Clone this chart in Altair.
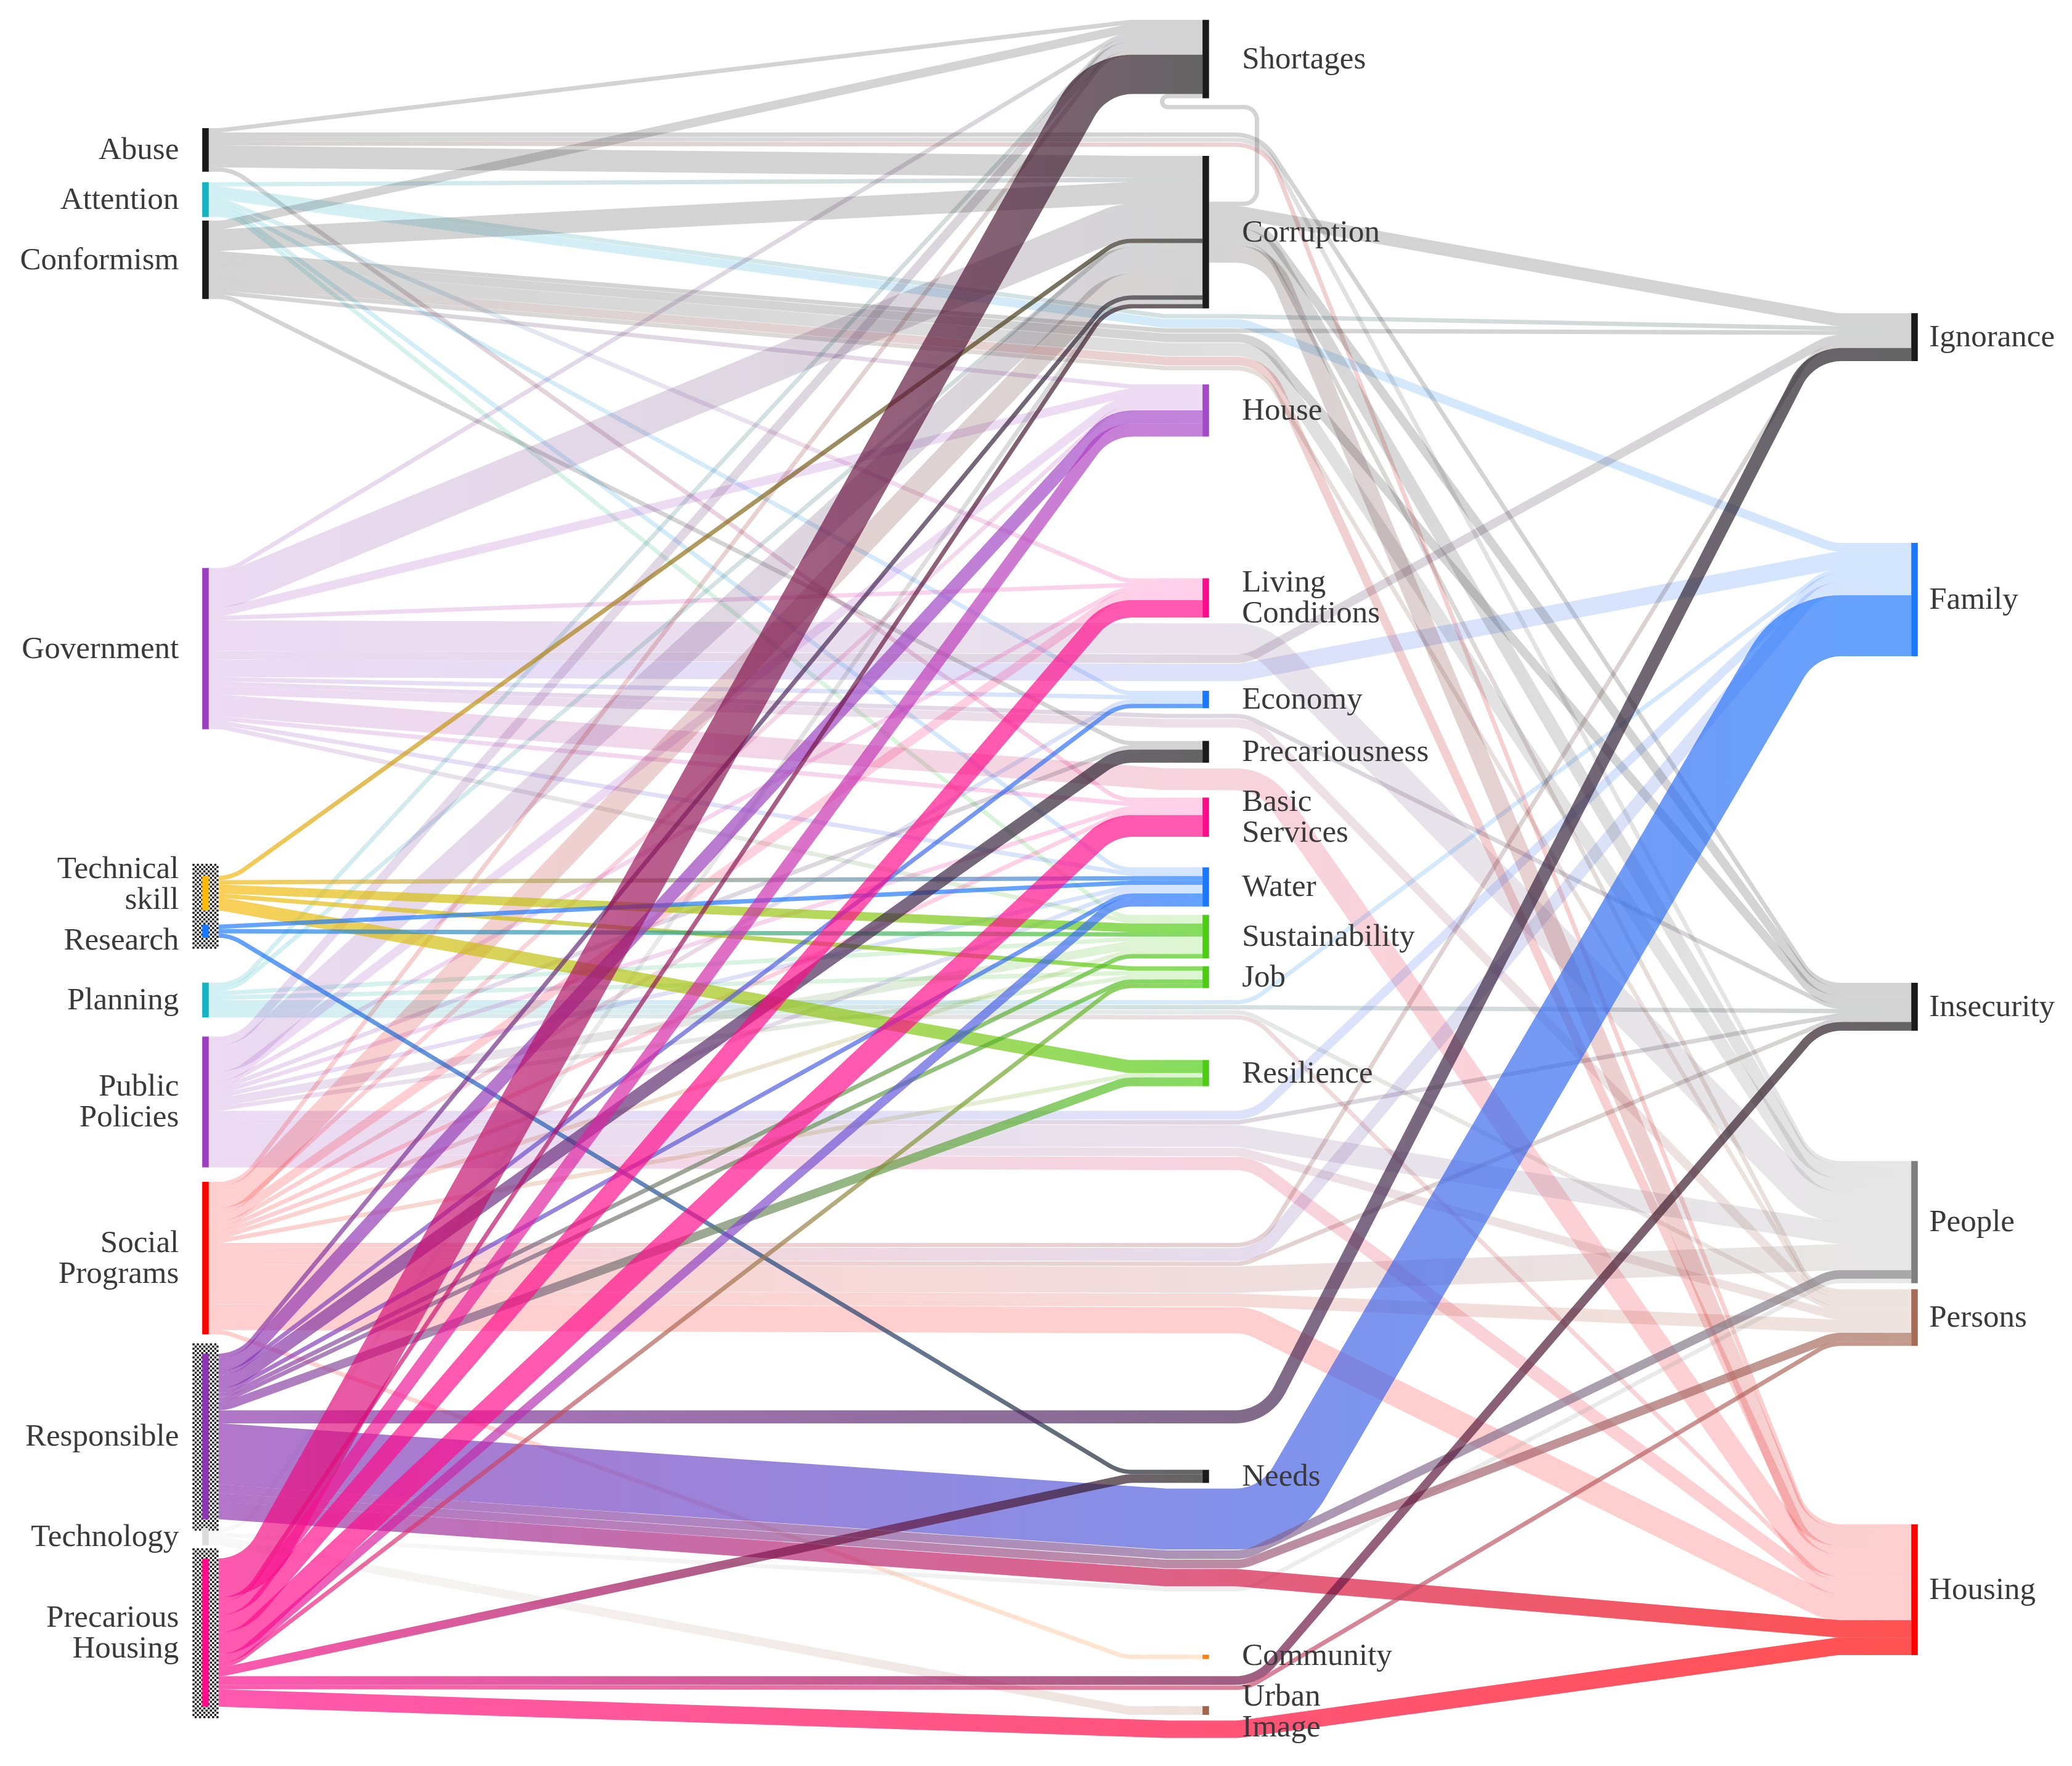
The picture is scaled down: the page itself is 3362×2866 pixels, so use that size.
import math
import altair as alt
import pandas as pd

alt.data_transformers.disable_max_rows()

# ---------------- data ----------------
left_nodes = ["Abuse", "Attention", "Conformism", "Government", "Technical skill", "Research",
              "Planning", "Public Policies", "Social Programs", "Responsible", "Technology",
              "Precarious Housing"]
middle_nodes = ["Shortages", "Corruption", "House", "Living Conditions", "Economy", "Precariousness",
                "Basic Services", "Water", "Sustainability", "Job", "Resilience", "Needs",
                "Community", "Urban Image"]
right_nodes = ["Ignorance", "Family", "Insecurity", "People", "Persons", "Housing"]

node_labels = {"Technical skill": "Technical\nskill", "Public Policies": "Public\nPolicies",
               "Social Programs": "Social\nPrograms", "Precarious Housing": "Precarious\nHousing",
               "Living Conditions": "Living\nConditions", "Basic Services": "Basic\nServices",
               "Urban Image": "Urban\nImage"}

selected_nodes = ["Technical skill", "Research", "Responsible", "Precarious Housing"]

flows_abuse = {"Shortages": 1, "Corruption": 5, "Basic Services": 1, "Insecurity": 1, "People": 1, "Housing": 1}
flows_attention = {"Corruption": 1, "Economy": 1, "Living Conditions": 1, "Water": 1, "Sustainability": 1,
                   "Ignorance": 1, "Family": 2}
flows_conformism = {"Shortages": 2, "Corruption": 5, "House": 1, "Precariousness": 1, "Ignorance": 1,
                    "Insecurity": 2, "People": 3, "Housing": 2, "Persons": 1}
flows_government = {"Shortages": 1, "Corruption": 8, "House": 2, "Living Conditions": 1, "Economy": 1,
                    "Basic Services": 1, "Water": 1, "Sustainability": 1, "Ignorance": 2, "Family": 4,
                    "Insecurity": 1, "People": 7, "Persons": 2, "Housing": 5}
flows_technical = {"Corruption": 1, "Water": 1, "Sustainability": 2, "Job": 1, "Resilience": 3}
flows_research = {"Water": 1, "Sustainability": 1, "Needs": 1}
flows_planning = {"Shortages": 1, "Corruption": 1, "Sustainability": 1, "Job": 1, "Family": 1,
                  "Insecurity": 1, "Persons": 1, "Housing": 1}
flows_policies = {"Shortages": 2, "Corruption": 6, "House": 2, "Living Conditions": 1, "Precariousness": 1,
                  "Basic Services": 1, "Water": 1, "Sustainability": 2, "Job": 1, "Family": 2,
                  "Insecurity": 1, "People": 5, "Persons": 2, "Housing": 3}
flows_programs = {"Shortages": 1, "Corruption": 5, "House": 1, "Living Conditions": 2, "Economy": 1,
                  "Basic Services": 1, "Water": 1, "Sustainability": 1, "Resilience": 1, "Community": 1,
                  "Ignorance": 1, "Family": 3, "Insecurity": 1, "People": 6, "Persons": 3, "Housing": 6}
flows_responsible = {"Corruption": 1, "House": 3, "Economy": 1, "Precariousness": 3, "Water": 1,
                     "Sustainability": 1, "Job": 1, "Resilience": 2, "Ignorance": 3, "Family": 14,
                     "People": 2, "Persons": 2, "Housing": 4}
flows_technology = {"Corruption": 1, "Urban Image": 2, "People": 1}
flows_precarious = {"Shortages": 9, "Corruption": 1, "House": 3, "Living Conditions": 4, "Basic Services": 5,
                    "Water": 2, "Job": 1, "Needs": 2, "Insecurity": 2, "Persons": 1, "Housing": 4}
flows_corruption = {"Shortages": 1, "Ignorance": 3, "Insecurity": 2, "People": 3, "Persons": 1, "Housing": 4}

flows = {"Abuse": flows_abuse, "Attention": flows_attention, "Conformism": flows_conformism,
         "Government": flows_government, "Technical skill": flows_technical, "Research": flows_research,
         "Planning": flows_planning, "Public Policies": flows_policies, "Social Programs": flows_programs,
         "Responsible": flows_responsible, "Technology": flows_technology,
         "Precarious Housing": flows_precarious, "Corruption": flows_corruption}

# ---------------- styles ----------------
BLACK, TEAL, PURPLE, YELLOW = "#1a1a1a", "#16b3c3", "#9a3fbf", "#f9b90a"
BLUE, RED, PINK, GREEN = "#1a78ff", "#ff0000", "#ff0a8a", "#4ccc12"
node_color = {
    "Abuse": BLACK, "Attention": TEAL, "Conformism": BLACK, "Government": PURPLE,
    "Technical skill": YELLOW, "Research": BLUE, "Planning": TEAL, "Public Policies": PURPLE,
    "Social Programs": RED, "Responsible": "#8e35b0", "Technology": "#dcdcdc", "Precarious Housing": PINK,
    "Shortages": BLACK, "Corruption": BLACK, "House": "#a548c8", "Living Conditions": PINK,
    "Economy": BLUE, "Precariousness": BLACK, "Basic Services": PINK, "Water": BLUE,
    "Sustainability": GREEN, "Job": GREEN, "Resilience": GREEN, "Needs": BLACK,
    "Community": "#ff7f0e", "Urban Image": "#a5644a",
    "Ignorance": BLACK, "Family": BLUE, "Insecurity": BLACK, "People": "#7f7f7f",
    "Persons": "#a66c55", "Housing": RED,
}
PALE_OPACITY, HL_OPACITY = 0.19, 0.68

# ---------------- layout (units = flow units) ----------------
PX = 7.075
W, H = 3346, 2850
XU, YU = W / PX, H / PX
COL_X = [46.0, 275.4, 437.95]
BAR_W = 1.5
col_gaps = [
    [28.26, 2.4, 0.8, 61.7, 33.6, 3.2, 10.3, 4.4, 3.3, 4.4, 2.0, 3.0],
    [3.42, 13.2, 17.4, 32.5, 16.8, 7.5, 8.0, 7.0, 1.9, 1.8, 16.5, 88.0, 39.4, 10.8],
    [70.7, 41.7, 74.9, 29.9, 1.4, 40.9],
]
LABEL_X = [39.9, 283.7, 441.3]
FONT_SIZE, LINE_H, LABEL_GAP = 51, 50, 16
LEAD0, LEAD1, LEAD0_MR, LEAD1_MID, R_BASE = 2.0, 16.0, 6.0, 8.0, 10.0
NODE_PAD, WP_PAD, UP_COST = 1.3, 0.15, 2.5

columns = [left_nodes, middle_nodes, right_nodes]
node_col = {n: c for c, lst in enumerate(columns) for n in lst}
kinds = {(0, 1): "LM", (0, 2): "LR", (1, 2): "MR", (1, 1): "loop"}
links = []
for src, d in flows.items():
    for tgt, v in d.items():
        links.append(dict(s=src, t=tgt, v=v, kind=kinds[(node_col[src], node_col[tgt])]))

in_sum = {n: 0 for n in node_col}
out_sum = {n: 0 for n in node_col}
for L in links:
    out_sum[L["s"]] += L["v"]
    in_sum[L["t"]] += L["v"]
size = {n: max(in_sum[n], out_sum[n]) for n in node_col}
top = {}
for c, lst in enumerate(columns):
    y = 0.0
    for n, g in zip(lst, col_gaps[c]):
        y += g
        top[n] = y
        y += size[n]

def center(n):
    return top[n] + size[n] / 2

for L in links:
    L["next"] = center(L["s"]) if L["kind"] == "LR" else center(L["t"])

for it in range(6):
    for n in node_col:
        outs = [L for L in links if L["s"] == n]
        outs.sort(key=lambda L: (L["kind"] != "loop", L["next"]))
        tot = sum(L["v"] for L in outs)
        y = top[n] + (size[n] - tot) / 2
        for L in outs:
            L["sy"] = y
            y += L["v"]
    blocked = [(top[m] - NODE_PAD, top[m] + size[m] + NODE_PAD) for m in middle_nodes]
    for L in sorted([L for L in links if L["kind"] == "LR"], key=lambda L: L["sy"]):
        want, v = L["sy"], L["v"]
        cands = [want] + [e for s_, e in blocked] + [s_ - v for s_, e in blocked]
        feas = [c for c in cands if 0 <= c <= YU - v and all(c + v <= s_ or c >= e for s_, e in blocked)]
        best = min(feas, key=lambda c: (c - want) if c >= want else (want - c) * UP_COST)
        L["wy"] = best
        blocked.append((best - WP_PAD, best + v + WP_PAD))
    for n in node_col:
        ins = [L for L in links if L["t"] == n]
        def pkey(L):
            if L["kind"] == "loop":
                return 1e9
            if L["kind"] == "LR":
                return L["wy"] + L["v"] / 2
            return L["sy"] + L["v"] / 2
        ins.sort(key=pkey)
        tot = sum(L["v"] for L in ins)
        y = top[n] + (size[n] - tot) / 2
        for L in ins:
            L["ty"] = y
            y += L["v"]
    for L in links:
        if L["kind"] == "LR":
            L["next"] = L["wy"] + L["v"] / 2
        elif L["kind"] == "loop":
            L["next"] = -1
        else:
            L["next"] = L["ty"] + L["v"] / 2


def s_curve(x0, y0, x1, y1, w, lead0, lead1):
    dx, dy = x1 - x0, y1 - y0
    D = abs(dy)
    if D < 0.05:
        return [(x0, y0), (x1, y1)]
    s = 1 if dy > 0 else -1
    lead0, lead1 = min(lead0, dx * 0.1), min(lead1, dx * 0.15)
    dxe = dx - lead0 - lead1
    r = R_BASE + w / 2
    th = None
    for _ in range(80):
        Dp = D - 2 * r
        R = math.hypot(dxe, Dp)
        if R > 2 * r:
            t = math.atan2(Dp, dxe) + math.asin(2 * r / R)
            if 0 < t <= math.pi / 2 + 1e-9:
                Ls = (D - 2 * r * (1 - math.cos(t))) / math.sin(t)
                if Ls >= 0:
                    th = t
                    break
        r *= 0.85
    if th is None:
        return [(x0, y0), (x1, y1)]
    pts = [(x0, y0)]
    ax, bx, n = x0 + lead0, x1 - lead1, 18
    for i in range(n + 1):
        p = th * i / n
        pts.append((ax + r * math.sin(p), y0 + s * r * (1 - math.cos(p))))
    for i in range(n, -1, -1):
        p = th * i / n
        pts.append((bx - r * math.sin(p), y1 - s * r * (1 - math.cos(p))))
    pts.append((x1, y1))
    return pts


xL1 = COL_X[0] + BAR_W / 2
xM0, xM1 = COL_X[1] - BAR_W / 2, COL_X[1] + BAR_W / 2
xR0 = COL_X[2] - BAR_W / 2


def build_path(L):
    v = L["v"]
    ys, yt = L["sy"] + v / 2, L["ty"] + v / 2
    if L["kind"] == "LM":
        return s_curve(xL1, ys, xM0, yt, v, LEAD0, LEAD1)
    if L["kind"] == "MR":
        return s_curve(xM1, ys, xR0, yt, v, LEAD0_MR, LEAD1)
    if L["kind"] == "LR":
        yw = L["wy"] + v / 2
        return s_curve(xL1, ys, xM0, yw, v, LEAD0, LEAD1_MID) + s_curve(xM1, yw, xR0, yt, v, LEAD0_MR, LEAD1)
    # loop: leaves the right side of the source, returns into the left side of the target above
    xr, rc = xM1 + 11, 3.0
    yh = top[L["t"]] + size[L["t"]] + 2.0
    xl = xM0 - 8
    pts = [(xM1, ys)]
    for i in range(11):
        p = (math.pi / 2) * i / 10
        pts.append((xr - rc + rc * math.sin(p), ys - rc + rc * math.cos(p)))
    for i in range(11):
        p = (math.pi / 2) * i / 10
        pts.append((xr - rc + rc * math.cos(p), yh + rc - rc * math.sin(p)))
    ru, cy = (yh - yt) / 2, (yh + yt) / 2
    for i in range(21):
        p = math.pi * i / 20
        pts.append((xl - ru * math.sin(p), cy + ru * math.cos(p)))
    pts.append((xM0, yt))
    return pts


def dedupe(pts):
    out = [pts[0]]
    for p in pts[1:]:
        if math.dist(p, out[-1]) > 1e-6:
            out.append(p)
    return out


link_rows = []
for idx, L in enumerate(links):
    pts = dedupe(build_path(L))
    if max(p[1] for p in pts) - min(p[1] for p in pts) < 1e-3:
        # keep a non-degenerate bounding box so the gradient renders
        pts[-1] = (pts[-1][0], pts[-1][1] + 0.01)
    for i, (x, y) in enumerate(pts):
        link_rows.append(dict(link=idx, i=i, x=round(x, 4), y=round(y, 4), w=L["v"]))
df_links = pd.DataFrame(link_rows)

node_rows = []
for c, lst in enumerate(columns):
    for n in lst:
        node_rows.append(dict(name=n, x0=COL_X[c] - BAR_W / 2, x1=COL_X[c] + BAR_W / 2,
                              y0=top[n], y1=top[n] + size[n], col=node_color[n]))
df_nodes = pd.DataFrame(node_rows)

# labels centred on their node, nudged apart when they would collide
label_rows = []
for c, lst in enumerate(columns):
    labs = []
    for n in lst:
        lab = node_labels.get(n, n)
        labs.append(dict(label=lab, x=LABEL_X[c], y=center(n), c=c, nl=lab.count("\n") + 1))
    for _ in range(40):
        for a, b in zip(labs, labs[1:]):
            need = ((a["nl"] + b["nl"]) * LINE_H / 2 + LABEL_GAP) / PX
            gap = b["y"] - a["y"]
            if gap < need:
                a["y"] -= (need - gap) / 2
                b["y"] += (need - gap) / 2
    label_rows += labs
df_labels = pd.DataFrame(label_rows)

# hatched selection boxes
CELL = 0.5
box_rows, dot_rows, seen = [], [], set()
for n in selected_nodes:
    bx0, bx1 = COL_X[0] - 3.0, COL_X[0] + 3.0
    by0, by1 = top[n] - 2.3, top[n] + size[n] + 2.3
    box_rows.append(dict(x0=bx0, x1=bx1, y0=by0, y1=by1))
    for i in range(math.floor(bx0 / CELL), math.ceil(bx1 / CELL)):
        for j in range(math.floor(by0 / CELL), math.ceil(by1 / CELL)):
            if (i + j) % 2 == 0 and (i, j) not in seen:
                seen.add((i, j))
                dot_rows.append(dict(x=(i + 0.5) * CELL, y=(j + 0.5) * CELL))
df_box = pd.DataFrame(box_rows)
df_dots = pd.DataFrame(dot_rows)

# ---------------- chart ----------------
xs = alt.Scale(domain=[0, XU], range=[0, W], nice=False, zero=False)
ys = alt.Scale(domain=[0, YU], range=[0, H], nice=False, zero=False)
sws = alt.Scale(domain=[0, YU], range=[0, H], zero=True, nice=False)


def link_layer(idx, L):
    grad = alt.LinearGradient(
        gradient="linear", x1=0, y1=0, x2=1, y2=0,
        stops=[alt.GradientStop(color=node_color[L["s"]], offset=0),
               alt.GradientStop(color=node_color[L["t"]], offset=1)])
    op = HL_OPACITY if L["s"] in selected_nodes else PALE_OPACITY
    return alt.Chart(df_links).transform_filter(alt.datum.link == idx).mark_line(
        stroke=grad, strokeCap="butt", strokeJoin="round", opacity=op).encode(
        x=alt.X("x:Q", scale=xs, axis=None),
        y=alt.Y("y:Q", scale=ys, axis=None),
        order="i:Q",
        strokeWidth=alt.StrokeWidth("w:Q", scale=sws, legend=None),
    )


pale_layers = [link_layer(i, L) for i, L in enumerate(links) if L["s"] not in selected_nodes]
hl_layers = [link_layer(i, L) for i, L in enumerate(links) if L["s"] in selected_nodes]

boxes = alt.Chart(df_box).mark_rect(color="white").encode(
    x=alt.X("x0:Q", scale=xs, axis=None), x2="x1:Q",
    y=alt.Y("y0:Q", scale=ys, axis=None), y2="y1:Q")
dots = alt.Chart(df_dots).mark_square(size=11, color="#111111", opacity=1).encode(
    x=alt.X("x:Q", scale=xs, axis=None), y=alt.Y("y:Q", scale=ys, axis=None))
bars = alt.Chart(df_nodes).mark_rect().encode(
    x=alt.X("x0:Q", scale=xs, axis=None), x2="x1:Q",
    y=alt.Y("y0:Q", scale=ys, axis=None), y2="y1:Q",
    color=alt.Color("col:N", scale=None))


def label_layer(c, align, nl):
    sub = df_labels[(df_labels.c == c) & (df_labels.nl == nl)]
    return alt.Chart(sub).mark_text(
        align=align, baseline="middle", font="Liberation Serif", fontSize=FONT_SIZE,
        lineBreak="\n", lineHeight=LINE_H, dy=-(nl - 1) * LINE_H / 2, color="#3a3a3a").encode(
        x=alt.X("x:Q", scale=xs, axis=None), y=alt.Y("y:Q", scale=ys, axis=None), text="label:N")


label_layers = [label_layer(c, a, nl) for c, a in [(0, "right"), (1, "left"), (2, "left")] for nl in (1, 2)
                if len(df_labels[(df_labels.c == c) & (df_labels.nl == nl)]) > 0]

chart = alt.layer(*pale_layers, *hl_layers, boxes, dots, bars, *label_layers).properties(
    width=W, height=H, padding=0, autosize=alt.AutoSizeParams(type="none"), background="white"
).configure_view(stroke=None)

chart.save("out.html", embed_options={"renderer": "svg", "actions": False})
